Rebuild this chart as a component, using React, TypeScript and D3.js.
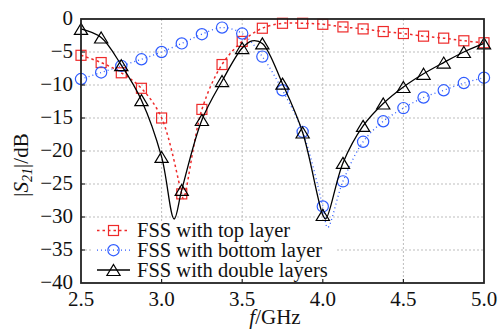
import React from 'react';
import * as d3 from 'd3';

// Frequencies (GHz) at which markers are drawn
const freqs = [2.5, 2.625, 2.75, 2.875, 3.0, 3.125, 3.25, 3.375, 3.5, 3.625, 3.75, 3.875, 4.0, 4.125, 4.25, 4.375, 4.5, 4.625, 4.75, 4.875, 5.0];
// |S21| (dB)
const topLayer = [-5.5, -6.6, -8.15, -10.5, -15.0, -26.5, -13.7, -6.9, -3.4, -1.4, -0.65, -0.65, -0.8, -1.2, -1.5, -1.9, -2.2, -2.6, -2.9, -3.3, -3.6];
const bottomLayer = [-9.1, -8.1, -7.1, -6.1, -5.0, -3.7, -2.3, -1.3, -2.2, -5.7, -10.8, -17.1, -28.4, -24.6, -18.6, -15.5, -13.5, -11.9, -10.8, -9.7, -8.9];
const doubleLayers = [-1.5, -2.8, -7.0, -12.3, -20.9, -25.9, -15.3, -9.4, -4.4, -3.7, -9.8, -17.2, -29.7, -21.8, -16.2, -12.8, -10.3, -8.3, -6.6, -5.0, -3.7];
// Extra curve points (dips / peak)
const topExtraF = [3.135];
const topExtraV = [-27.2];
const bottomExtraF = [4.03];
const bottomExtraV = [-31.6];
const doubleExtraF = [3.078, 3.561, 4.018];
const doubleExtraV = [-30.3, -3.3, -30.3];

const xTicks = [2.5, 3.0, 3.5, 4.0, 4.5, 5.0];
const yTicks = [0, -5, -10, -15, -20, -25, -30, -35, -40];
const legendLabels = ['FSS with top layer', 'FSS with bottom layer', 'FSS with double layers'];

const W = 500;
const H = 334;
const L = 81, R = 484, T = 19, B = 283;
const FONT = '"Liberation Serif", "Times New Roman", serif';
const RED = '#ee2a2a';
const BLUE = '#2f5cff';

export default function App() {
  const x = d3.scaleLinear().domain([2.5, 5.0]).range([L, R]);
  const y = d3.scaleLinear().domain([-40, 0]).range([B, T]);

  const merge = (vals: number[], ef: number[], ev: number[]) => {
    const pts: [number, number][] = freqs.map((f, i) => [f, vals[i]]);
    ef.forEach((f, i) => pts.push([f, ev[i]]));
    pts.sort((a, b) => a[0] - b[0]);
    return pts;
  };
  const line = d3
    .line<[number, number]>()
    .x((d) => x(d[0]))
    .y((d) => y(d[1]))
    .curve(d3.curveCatmullRom.alpha(0.5));

  const series = [
    { vals: topLayer, pts: merge(topLayer, topExtraF, topExtraV), color: RED, dash: '2.5,3', width: 1.5, marker: 'square' },
    { vals: bottomLayer, pts: merge(bottomLayer, bottomExtraF, bottomExtraV), color: BLUE, dash: '1,3', width: 1.3, marker: 'circle' },
    { vals: doubleLayers, pts: merge(doubleLayers, doubleExtraF, doubleExtraV), color: '#000', dash: undefined, width: 1.3, marker: 'triangle' },
  ];

  const marker = (kind: string, cx: number, cy: number, color: string, key: any) => {
    if (kind === 'square')
      return <rect key={key} x={cx - 5} y={cy - 5} width={10} height={10} fill="none" stroke={color} strokeWidth={1.2} />;
    if (kind === 'circle')
      return <circle key={key} cx={cx} cy={cy} r={5.6} fill="none" stroke={color} strokeWidth={1.2} />;
    return (
      <path key={key} d={`M${cx},${cy - 5.5}L${cx + 6.6},${cy + 5.5}L${cx - 6.6},${cy + 5.5}Z`} fill="none" stroke={color} strokeWidth={1.2} />
    );
  };

  const legX0 = 97, legX1 = 130, legTextX = 137;
  const legY = [230.5, 250.2, 270];

  return (
    <svg width={W} height={H} style={{ position: 'absolute', left: 0, top: 0, background: '#fff' }} fontFamily={FONT}>
      <rect x={0} y={0} width={W} height={H} fill="#fff" />
      {/* grid */}
      {xTicks.slice(1, -1).map((t) => (
        <line key={'gx' + t} x1={x(t)} x2={x(t)} y1={T} y2={B} stroke="#bdbdbd" strokeWidth={1} strokeDasharray="2,2" />
      ))}
      {yTicks.slice(1, -1).map((t) => (
        <line key={'gy' + t} x1={L} x2={R} y1={y(t)} y2={y(t)} stroke="#bdbdbd" strokeWidth={1} strokeDasharray="2,2" />
      ))}
      {/* legend background */}
      <rect x={93} y={221} width={243} height={61} fill="#fff" />
      {/* data */}
      {series.map((s, i) => (
        <g key={'s' + i}>
          <path d={line(s.pts) || ''} fill="none" stroke={s.color} strokeWidth={s.width} strokeDasharray={s.dash} />
          {freqs.map((f, j) => marker(s.marker, x(f), y(s.vals[j]), s.color, j))}
        </g>
      ))}
      {/* ticks */}
      {xTicks.slice(1, -1).map((t) => (
        <line key={'tx' + t} x1={x(t)} x2={x(t)} y1={B} y2={B - 4} stroke="#222" strokeWidth={1.2} />
      ))}
      {yTicks.slice(1, -1).map((t) => (
        <line key={'ty' + t} x1={L} x2={L + 4} y1={y(t)} y2={y(t)} stroke="#222" strokeWidth={1.2} />
      ))}
      {/* frame */}
      <rect x={L} y={T} width={R - L} height={B - T} fill="none" stroke="#222" strokeWidth={1.8} />
      {/* tick labels */}
      {xTicks.map((t) => (
        <text key={'lx' + t} x={x(t)} y={306} textAnchor="middle" fontSize={21} fill="#111">
          {t.toFixed(1)}
        </text>
      ))}
      {yTicks.map((t) => (
        <text key={'ly' + t} x={73} y={y(t)} dy="0.3em" textAnchor="end" fontSize={21} fill="#111">
          {t === 0 ? '0' : '\u2212' + Math.abs(t)}
        </text>
      ))}
      {/* axis titles */}
      <text x={275} y={324} textAnchor="middle" fontSize={21} fill="#111">
        <tspan fontStyle="italic">f</tspan>
        <tspan>/GHz</tspan>
      </text>
      <text transform="translate(28,165) rotate(-90)" textAnchor="middle" fontSize={21} fill="#111">
        <tspan>|</tspan>
        <tspan fontStyle="italic">S</tspan>
        <tspan fontStyle="italic" fontSize={14} dy={4}>21</tspan>
        <tspan dy={-4}>|/dB</tspan>
      </text>
      {/* legend */}
      {series.map((s, i) => (
        <g key={'lg' + i}>
          <line x1={legX0} x2={legX1} y1={legY[i]} y2={legY[i]} stroke={s.color} strokeWidth={s.width} strokeDasharray={s.dash} />
          {marker(s.marker, (legX0 + legX1) / 2, legY[i], s.color, 'm')}
          <text x={legTextX} y={legY[i]} dy="0.33em" fontSize={20.5} fill="#111">
            {legendLabels[i]}
          </text>
        </g>
      ))}
    </svg>
  );
}
